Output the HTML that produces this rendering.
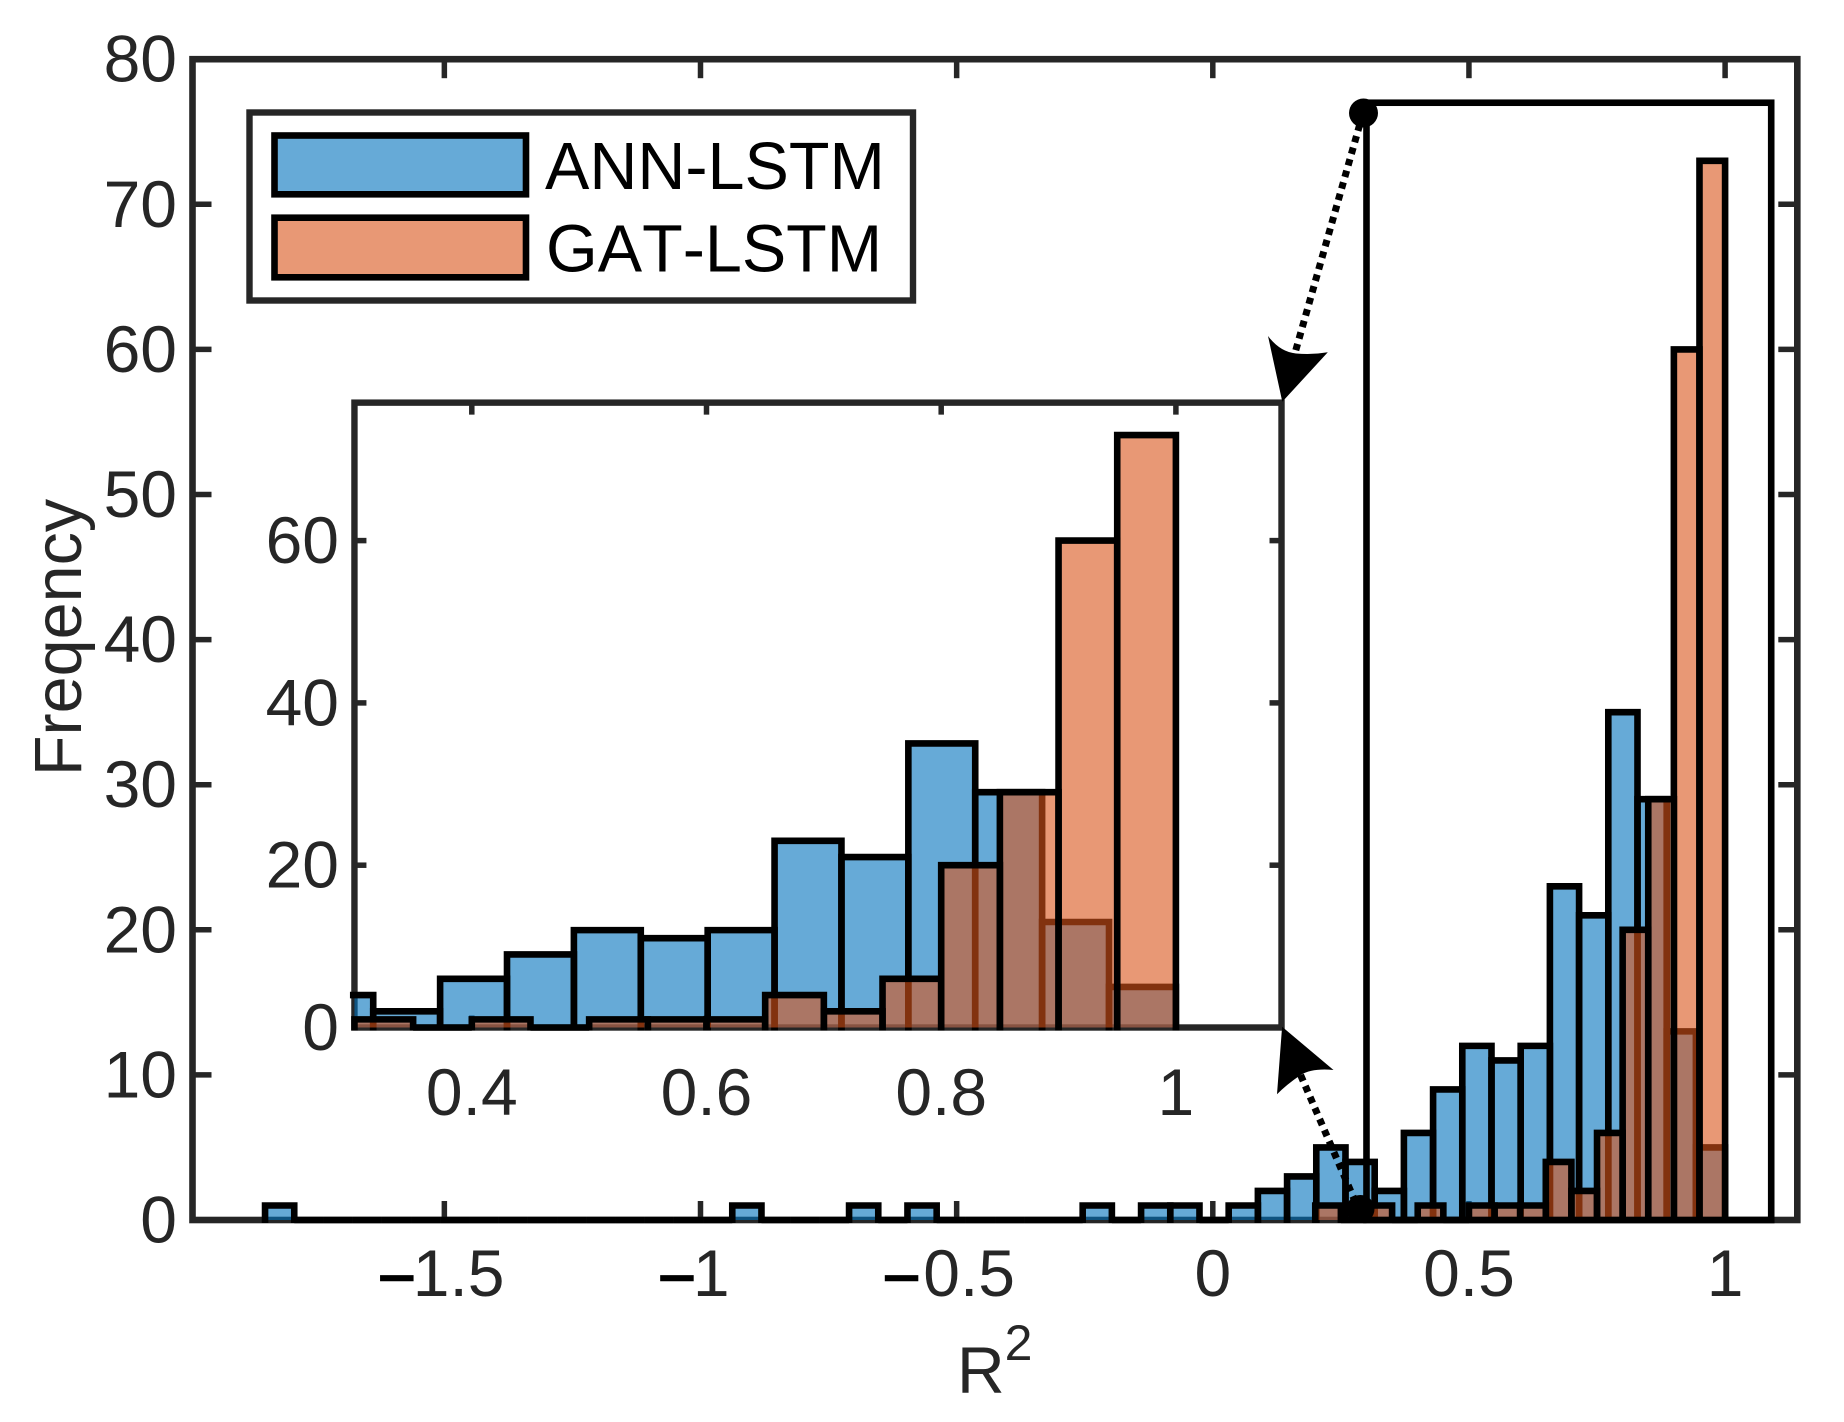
<!DOCTYPE html>
<html lang="en">
<head>
<meta charset="utf-8">
<title>R2 frequency histogram</title>
<style>
html,body{margin:0;padding:0;background:#fff;}
svg{display:block;}
text{font-family:"Liberation Sans",Arial,sans-serif;font-kerning:none;}
</style>
</head>
<body>
<svg id="chart" xmlns="http://www.w3.org/2000/svg" width="1844" height="1422" viewBox="0 0 1844 1422">
  <rect x="0" y="0" width="1844" height="1422" fill="#fff"/>
  <g id="main-axes"></g>
  <g id="main-bars"></g>
  <g id="zoom-box"></g>
  <g id="inset-axes"></g>
  <g id="inset-bars"></g>

  <g>
    <rect x="249.5" y="112.5" width="663.5" height="188" fill="#fff" stroke="#262626" stroke-width="6.4"/>
    <rect x="274.5" y="135.5" width="251.5" height="58.8" fill="#66AAD7" stroke="#000" stroke-width="6.6"/>
    <text x="545" y="189" font-size="66.5" fill="#000">ANN-LSTM</text>
    <rect x="274.5" y="217.7" width="251.5" height="59.6" fill="#E89875" stroke="#000" stroke-width="6.6"/>
    <text x="546" y="271.7" font-size="66.5" fill="#000">GAT-LSTM</text>
  </g>

  <g>
    <line x1="1363" y1="113" x2="1295" y2="353" stroke="#000" stroke-width="7" stroke-dasharray="6.5 5.5"/>
    <path d="M1282.3,401.7 L1268,336 Q1280,352 1296,353.5 Q1312,355 1327.8,352.3 Z" fill="#000"/>
    <circle cx="1363.5" cy="113" r="14.5" fill="#000"/>
    <line x1="1300.6" y1="1075" x2="1358" y2="1208" stroke="#000" stroke-width="7" stroke-dasharray="6.5 5.5"/>
    <path d="M1282.1,1026.7 L1333.5,1070 Q1312,1068 1300.6,1075 Q1286,1085 1277,1094.3 Z" fill="#000"/>
    <circle cx="1360.5" cy="1209" r="14" fill="#000"/>
  </g>

  <text x="957" y="1393" font-size="66" fill="#262626">R<tspan font-size="50" dy="-33">2</tspan></text>
  <text transform="translate(81,637.5) rotate(-90)" text-anchor="middle" font-size="66.5" fill="#262626">Freqency</text>
</svg>

<script>
// Histogram data
const annBinStart = -1.85;
const annBinWidth = 0.057;
const annCounts = [1,0,0,0,0,0,0,0,0,0,0,0,0,0,0,0,1,0,0,0,1,0,1,0,0,0,0,0,1,0,1,1,0,1,2,3,5,4,2,6,9,12,11,12,23,21,35,29,13,5];
const gatBinStart = 0.2;
const gatBinWidth = 0.05;
const gatCounts = [1,0,1,0,1,0,1,1,1,4,2,6,20,29,60,73];

// Axis ticks
const mainXTicks = [-1.5,-1,-0.5,0,0.5,1];
const mainXTickLabels = ['\u20131.5','\u20131','\u20130.5','0','0.5','1'];
const mainYTicks = [0,10,20,30,40,50,60,70,80];
const insetXTicks = [0.4,0.6,0.8,1];
const insetXTickLabels = ['0.4','0.6','0.8','1'];
const insetYTicks = [0,20,40,60];
const insetXLimits = [0.3,1.09];
const insetYLimits = [0,77];

const NS = 'http://www.w3.org/2000/svg';
const AXIS = '#262626';
const FONT = 66;
const LW = 6.6;

// Axis functions
function mainX(v){ return 1212.8 + 512.3 * v; }
function mainY(v){ return 1220 - 14.51 * v; }
function insetX(v){ return 471.8 + (v - 0.4) * 1173.5; }
function insetY(v){ return 1027.5 - 8.115 * v; }

function mk(parent, tag, attrs){
  const el = document.createElementNS(NS, tag);
  for (const k in attrs) el.setAttribute(k, attrs[k]);
  parent.appendChild(el);
  return el;
}

function drawLine(parent, name, x1, y1, x2, y2, width, color){
  const el = mk(parent, 'line', {x1:x1, y1:y1, x2:x2, y2:y2, stroke:color, 'stroke-width':width});
  
  
  return el;
}

function drawLabel(parent, name, x, y, anchor, str){
  const el = mk(parent, 'text', {x:x, y:y, 'text-anchor':anchor, 'font-size':FONT, fill:AXIS});
  
  
  el.textContent = str;
  return el;
}

// Negative tick labels: short heavy black dash followed by the digits.
function drawNegativeLabel(parent, name, x, y, str){
  const digitsWidth = str.length > 2 ? 91.7 : 36.7;
  const hasLeadingOne = str.charAt(1) === '1';
  const dashStart = x - (digitsWidth + 32.5) / 2 - (str.length > 2 ? (hasLeadingOne ? 2.2 : 9.7) : 5.7);
  const digitsStart = dashStart + 32.7 + (hasLeadingOne ? 0 : 5.7);
  const el = mk(parent, 'text', {y:y, 'font-size':FONT, fill:AXIS});
  
  
  const m = mk(el, 'tspan', {x:dashStart + 1.2, y:y - 3.5, 'font-size':56, fill:'#000', stroke:'#000', 'stroke-width':2.4});
  
  
  m.textContent = '\u2013';
  const r = mk(el, 'tspan', {x:digitsStart, y:y});
  
  
  r.textContent = str.slice(1);
  return el;
}

// One histogram series: fills with alpha, black outline open at the baseline.
function drawSeries(parent, prefix, start, width, counts, color, xf, yf, xMin){
  const g = mk(parent, 'g', {});
  
  
  counts.forEach(function(c, i){
    let a = start + i * width;
    const b = a + width;
    if (xMin !== null && b <= xMin) return;
    if (xMin !== null && a < xMin - 1e-9) a = xMin;
    const x0 = xf(a), x1 = xf(b), yb = yf(0), yt = yf(c);
    if (c > 0) {
      const r = mk(g, 'rect', {x:x0, y:yt, width:x1 - x0, height:yb - yt, fill:color, 'fill-opacity':0.6});
      
      
    }
  });
  counts.forEach(function(c, i){
    let a = start + i * width;
    const b = a + width;
    if (xMin !== null && b <= xMin) return;
    const clipped = xMin !== null && a < xMin - 1e-9;
    if (clipped) a = xMin;
    const x0 = xf(a), x1 = xf(b), yb = yf(0) + 3, yt = yf(c);
    let d;
    if (c > 0) {
      d = clipped
        ? 'M' + (x0 - 4.5) + ',' + yt + ' H' + x1 + ' V' + yb
        : 'M' + x0 + ',' + yb + ' V' + yt + ' H' + x1 + ' V' + yb;
    } else {
      d = 'M' + x0 + ',' + yf(0) + ' H' + x1;
    }
    const p = mk(g, 'path', {d:d, fill:'none', stroke:'#000', 'stroke-width':LW, 'stroke-linejoin':'miter'});
    
    
  });
}

// Main axes
const mainAxes = document.getElementById('main-axes');
const mainBox = mk(mainAxes, 'rect', {x:192.5, y:mainY(80), width:1604.8, height:mainY(0) - mainY(80), fill:'#fff', stroke:AXIS, 'stroke-width':LW});


mainXTicks.forEach(function(v, i){
  const x = mainX(v);
  drawLine(mainAxes, 'main-x-tick-bottom', x, mainY(0), x, mainY(0) - 19, 5.5, AXIS);
  drawLine(mainAxes, 'main-x-tick-top', x, mainY(80), x, mainY(80) + 19, 5.5, AXIS);
  if (mainXTickLabels[i].charAt(0) === '\u2013') {
    drawNegativeLabel(mainAxes, 'main-x-tick-label', x, 1296, mainXTickLabels[i]);
  } else {
    drawLabel(mainAxes, 'main-x-tick-label', x, 1296, 'middle', mainXTickLabels[i]);
  }
});
mainYTicks.forEach(function(v){
  const y = mainY(v);
  drawLine(mainAxes, 'main-y-tick-left', 192.5, y, 211.5, y, 5.5, AXIS);
  drawLine(mainAxes, 'main-y-tick-right', 1797.3, y, 1778.3, y, 5.5, AXIS);
  drawLabel(mainAxes, 'main-y-tick-label', 177, y + 22.5, 'end', String(v));
});

// Main bars
const mainBars = document.getElementById('main-bars');
drawSeries(mainBars, 'ann-lstm', annBinStart, annBinWidth, annCounts, '#0072BD', mainX, mainY, null);
drawSeries(mainBars, 'gat-lstm', gatBinStart, gatBinWidth, gatCounts, '#D95319', mainX, mainY, null);

// Zoom region rectangle (drawn above the bars)
const zoomRect = mk(document.getElementById('zoom-box'), 'rect', {
  x: mainX(insetXLimits[0]),
  y: mainY(insetYLimits[1]),
  width: mainX(insetXLimits[1]) - mainX(insetXLimits[0]),
  height: mainY(insetYLimits[0]) - mainY(insetYLimits[1]),
  fill:'none', stroke:'#000', 'stroke-width':LW
});



// Inset axes
const insetAxes = document.getElementById('inset-axes');
const insetBox = mk(insetAxes, 'rect', {
  x: insetX(insetXLimits[0]),
  y: insetY(insetYLimits[1]),
  width: insetX(insetXLimits[1]) - insetX(insetXLimits[0]),
  height: insetY(insetYLimits[0]) - insetY(insetYLimits[1]),
  fill:'#fff', stroke:AXIS, 'stroke-width':6.4
});


insetXTicks.forEach(function(v, i){
  const x = insetX(v);
  drawLine(insetAxes, 'inset-x-tick-bottom', x, insetY(0), x, insetY(0) - 12, 5.5, AXIS);
  drawLine(insetAxes, 'inset-x-tick-top', x, insetY(insetYLimits[1]), x, insetY(insetYLimits[1]) + 12, 5.5, AXIS);
  drawLabel(insetAxes, 'inset-x-tick-label', x, 1115, 'middle', insetXTickLabels[i]);
});
insetYTicks.forEach(function(v){
  const y = insetY(v);
  drawLine(insetAxes, 'inset-y-tick-left', insetX(insetXLimits[0]), y, insetX(insetXLimits[0]) + 12, y, 5.5, AXIS);
  drawLine(insetAxes, 'inset-y-tick-right', insetX(insetXLimits[1]), y, insetX(insetXLimits[1]) - 12, y, 5.5, AXIS);
  drawLabel(insetAxes, 'inset-y-tick-label', 339, y + 22.5, 'end', String(v));
});

// Inset bars
const insetBars = document.getElementById('inset-bars');
drawSeries(insetBars, 'inset-ann-lstm', annBinStart, annBinWidth, annCounts, '#0072BD', insetX, insetY, insetXLimits[0]);
drawSeries(insetBars, 'inset-gat-lstm', gatBinStart, gatBinWidth, gatCounts, '#D95319', insetX, insetY, insetXLimits[0]);
</script>
</body>
</html>
